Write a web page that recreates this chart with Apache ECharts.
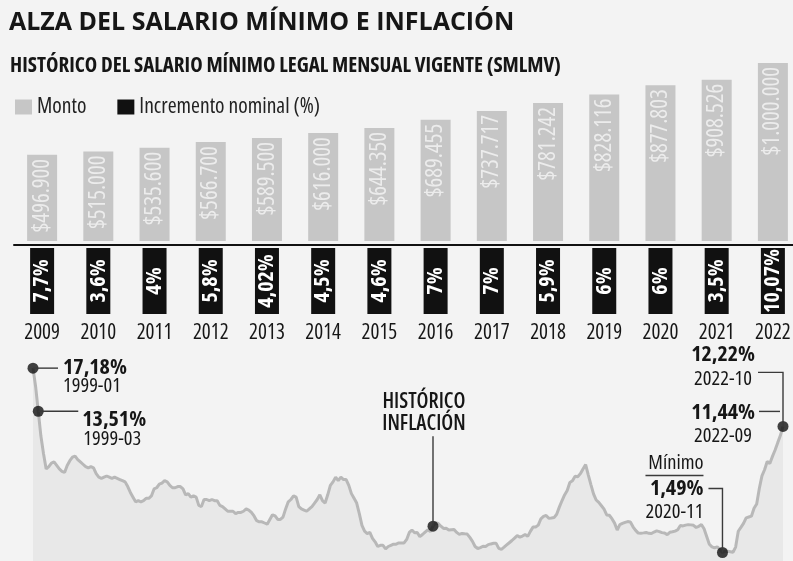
<!DOCTYPE html>
<html><head><meta charset="utf-8">
<script src="https://cdn.jsdelivr.net/npm/echarts@6/dist/echarts.min.js"></script>
<style>html,body{margin:0;padding:0;background:#f3f3f3}#c{width:793px;height:561px}</style>
</head><body><div id="c"></div>
<script>
// ---------- DATA ----------
const anios = ['2009','2010','2011','2012','2013','2014','2015','2016','2017','2018','2019','2020','2021','2022'];
const monto = [496900, 515000, 535600, 566700, 589500, 616000, 644350, 689455, 737717, 781242, 828116, 877803, 908526, 1000000];
const incremento = [7.7, 3.6, 4, 5.8, 4.02, 4.5, 4.6, 7, 7, 5.9, 6, 6, 3.5, 10.07];

// Inflación anual (%), mensual desde 1999-01 hasta 2022-10
const inflacion = [
  17.18, 15.60, 13.51, 11.40, 9.90, 8.60, 8.80, 9.10, 9.20, 8.90, 8.60, 8.40,   // 1999
  8.30, 8.90, 9.30, 9.60, 9.70, 9.40, 9.20, 9.00, 8.80, 8.70, 8.80, 8.70,       // 2000
  8.20, 7.90, 7.80, 7.90, 8.00, 7.90, 7.80, 7.90, 7.80, 7.70, 7.60, 7.50,       // 2001
  7.10, 6.60, 6.20, 5.80, 5.90, 5.80, 5.90, 6.10, 6.10, 6.30, 6.90, 7.00,       // 2002
  7.30, 7.40, 7.60, 7.50, 7.20, 7.00, 7.00, 7.10, 7.10, 6.90, 6.40, 6.50,       // 2003
  6.20, 6.30, 6.20, 5.50, 5.40, 6.00, 6.00, 5.90, 6.00, 5.90, 5.90, 5.50,       // 2004
  5.40, 5.20, 5.00, 5.00, 5.00, 4.80, 4.90, 4.90, 5.00, 5.20, 5.10, 4.90,       // 2005
  4.60, 4.20, 4.10, 4.10, 4.00, 3.90, 4.30, 4.70, 4.60, 4.30, 4.30, 4.50,       // 2006
  5.20, 5.80, 6.00, 6.30, 6.20, 5.40, 5.20, 5.10, 5.00, 5.20, 5.40, 5.70,       // 2007
  6.00, 6.40, 5.90, 5.70, 6.40, 7.20, 7.50, 7.90, 7.60, 7.90, 7.70, 7.70,       // 2008
  7.20, 6.50, 6.10, 5.70, 4.80, 3.80, 3.30, 3.10, 3.20, 2.70, 2.40, 2.00,       // 2009
  2.10, 2.10, 1.80, 2.00, 2.10, 2.20, 2.20, 2.30, 2.30, 2.30, 2.60, 3.20,       // 2010
  3.40, 3.17, 3.19, 2.84, 3.02, 3.23, 3.42, 3.27, 3.73, 4.02, 3.96, 3.73,       // 2011
  3.54, 3.55, 3.40, 3.43, 3.44, 3.20, 3.03, 3.11, 3.08, 3.06, 2.77, 2.44,       // 2012
  2.00, 1.83, 1.91, 2.02, 2.00, 2.16, 2.22, 2.27, 2.27, 1.84, 1.76, 1.94,       // 2013
  2.13, 2.32, 2.51, 2.72, 2.93, 2.79, 2.89, 3.02, 2.86, 3.29, 3.65, 3.66,       // 2014
  3.82, 4.36, 4.56, 4.64, 4.41, 4.42, 4.46, 4.74, 5.35, 5.89, 6.39, 6.77,       // 2015
  7.45, 7.59, 7.98, 7.93, 8.20, 8.60, 8.97, 8.10, 7.27, 6.48, 5.96, 5.75,       // 2016
  5.47, 5.18, 4.69, 4.66, 4.37, 3.99, 3.40, 3.87, 3.97, 4.05, 4.12, 4.09,       // 2017
  3.68, 3.37, 3.14, 3.13, 3.16, 3.20, 3.12, 3.10, 3.23, 3.33, 3.27, 3.18,       // 2018
  3.15, 3.01, 3.21, 3.25, 3.31, 3.43, 3.79, 3.75, 3.82, 3.86, 3.84, 3.80,       // 2019
  3.62, 3.72, 3.86, 3.51, 2.85, 2.19, 1.97, 1.88, 1.97, 1.75, 1.49, 1.61,       // 2020
  1.60, 1.56, 1.51, 1.95, 3.30, 3.63, 3.97, 4.44, 4.51, 4.58, 5.26, 5.62,       // 2021
  6.94, 8.01, 8.53, 9.23, 9.07, 9.67, 10.21, 10.84, 11.44, 12.22                // 2022
];
const inicioAnio = 1999;
const hitos = ['1999-01', '1999-03', '2011-09', '2020-11', '2022-10'];

// ---------- HELPERS ----------
const meses = inflacion.map((_, i) => {
  const y = inicioAnio + Math.floor(i / 12), m = (i % 12) + 1;
  return y + '-' + (m < 10 ? '0' + m : m);
});
const coma = v => String(v).replace('.', ',');
const miles = v => String(v).replace(/\B(?=(\d{3})+(?!\d))/g, '.');
const valorDe = f => inflacion[meses.indexOf(f)];

const CF = '"Open Sans", sans-serif';   // used with fontStyle 'condensed'
const CS = 'condensed';
const INK = '#161616';
const GRIS = '#c6c6c6';

const chart = echarts.init(document.getElementById('c'));
const option = {
  backgroundColor: '#f3f3f3',
  animation: false,
  title: [
    { text: 'ALZA DEL SALARIO MÍNIMO E INFLACIÓN', left: 9, top: 10, padding: 0,
      textStyle: { fontSize: 25, fontWeight: 'bold', fontFamily: CF, color: INK } },
    { text: 'HISTÓRICO DEL SALARIO MÍNIMO LEGAL MENSUAL VIGENTE (SMLMV)', left: 10, top: 56, padding: 0,
      textStyle: { fontSize: 21, fontWeight: 'bold', fontStyle: CS, fontFamily: CF, color: INK } }
  ],
  legend: {
    data: ['Monto', 'Incremento nominal (%)'], left: 15, top: 96, padding: 0,
    icon: 'rect', itemWidth: 17, itemHeight: 15, itemGap: 31, selectedMode: false,
    textStyle: { fontSize: 21.5, fontStyle: CS, fontFamily: CF, color: '#222' }
  },
  grid: [
    { left: 14, right: -8, top: 63, bottom: 320, outerBoundsMode: 'none' },
    { left: 14, right: -8, top: 248, height: 66, outerBoundsMode: 'none' },
    { left: 33, right: 10, top: 358.5, height: 211.5, outerBoundsMode: 'none' }
  ],
  xAxis: [
    { gridIndex: 0, type: 'category', data: anios, offset: 4,
      axisLine: { lineStyle: { color: '#111', width: 2 } },
      axisTick: { inside: true, length: 3, lineStyle: { color: '#777', width: 1 } },
      axisLabel: { show: false } },
    { gridIndex: 1, type: 'category', data: anios,
      axisLine: { show: false }, axisTick: { show: false },
      axisLabel: { interval: 0, margin: 9, fontSize: 21, fontStyle: CS, fontFamily: CF, color: INK } },
    { gridIndex: 2, type: 'category', data: meses, boundaryGap: false, show: false }
  ],
  yAxis: [
    { gridIndex: 0, type: 'value', min: 25000, max: 1000000, show: false },
    { gridIndex: 1, type: 'value', min: 0, max: 1, show: false },
    { gridIndex: 2, type: 'value', min: 0, max: 18, show: false }
  ],
  series: [
    { name: 'Monto', type: 'bar', xAxisIndex: 0, yAxisIndex: 0, data: monto, barWidth: 30,
      itemStyle: { color: GRIS },
      label: { show: true, position: 'insideTop', distance: 4, rotate: 90, align: 'right', verticalAlign: 'middle',
        formatter: p => '$' + miles(p.value), color: '#ececec', fontSize: 23, fontStyle: CS, fontFamily: CF } },
    { name: 'Incremento nominal (%)', type: 'scatter', xAxisIndex: 1, yAxisIndex: 1,
      symbol: 'rect', symbolSize: [24, 66],
      itemStyle: { color: '#111', opacity: 1 },
      data: incremento.map((v, i) => ({ value: [i, 0.5], inc: v })),
      label: { show: true, position: 'inside', rotate: 90, color: '#fff', fontSize: 22, fontWeight: 'bold',
        fontStyle: CS, fontFamily: CF, formatter: p => coma(p.data.inc) + '%' } },
    { name: 'Inflación', type: 'line', xAxisIndex: 2, yAxisIndex: 2, data: inflacion,
      showSymbol: false, symbol: 'none', smooth: false, z: 2,
      lineStyle: { color: '#b8b8b8', width: 3 },
      areaStyle: { color: '#e8e8e8', opacity: 1 } },
    { name: 'Hitos', type: 'scatter', xAxisIndex: 2, yAxisIndex: 2, z: 5,
      symbolSize: 11, itemStyle: { color: '#111' },
      data: hitos.map(f => [meses.indexOf(f), valorDe(f)]) }
  ]
};
chart.setOption(option);

// ---------- ANNOTATIONS (positioned from the chart's own scales) ----------
const P = f => chart.convertToPixel({ xAxisIndex: 2, yAxisIndex: 2 }, [meses.indexOf(f), valorDe(f)]);
const txt = (x, y, text, o) => ({ type: 'text', x, y, z: 50, silent: true,
  style: Object.assign({ text, fill: INK, fontSize: 20.5, fontStyle: CS, fontFamily: CF, fontWeight: 'normal',
    align: 'left', verticalAlign: 'middle' }, o || {}) });
const ln = (pts) => ({ type: 'polyline', z: 40, silent: true, shape: { points: pts },
  style: { stroke: '#3a3a3a', lineWidth: 1.4, fill: 'none' } });
const B = { fontWeight: 'bold', fontSize: 22 };
const R = o => Object.assign({ align: 'right' }, o || {});

const a = P('1999-01'), b = P('1999-03'), c = P('2011-09'), d = P('2020-11'), e = P('2022-10');
const g = [];
g.push(ln([[a[0], a[1]], [a[0] + 25, a[1]]]));
g.push(txt(a[0] + 30, a[1], coma(valorDe('1999-01')) + '%', B));
g.push(txt(a[0] + 30, a[1] + 18, '1999-01'));
g.push(ln([[b[0], b[1]], [b[0] + 40, b[1]]]));
g.push(txt(b[0] + 44, b[1] + 8, coma(valorDe('1999-03')) + '%', B));
g.push(txt(b[0] + 45, b[1] + 28, '1999-03'));
g.push(ln([[c[0], c[1] - 90], [c[0], c[1]]]));
g.push(txt(c[0] - 9, c[1] - 124, 'HISTÓRICO', { align: 'center', fontSize: 21, fontWeight: 600 }));
g.push(txt(c[0] - 9, c[1] - 102, 'INFLACIÓN', { align: 'center', fontSize: 21, fontWeight: 600 }));
g.push(ln([[d[0] - 14, d[1] - 64], [d[0], d[1] - 64], [d[0], d[1]]]));
g.push(txt(d[0] - 19, d[1] - 89, 'Mínimo', R()));
g.push(ln([[d[0] - 77, d[1] - 77], [d[0] - 19, d[1] - 77]]));
g.push(txt(d[0] - 19, d[1] - 64, coma(valorDe('2020-11')) + '%', R(B)));
g.push(txt(d[0] - 19, d[1] - 40, '2020-11', R()));
g.push(ln([[e[0] - 25, e[1] - 54], [e[0], e[1] - 54], [e[0], e[1]]]));
g.push(txt(e[0] - 28, e[1] - 72, coma(valorDe('2022-10')) + '%', R(B)));
g.push(txt(e[0] - 31, e[1] - 47, '2022-10', R()));
g.push(ln([[e[0] - 24, e[1] - 15], [e[0] - 3, e[1] - 15]]));
g.push(txt(e[0] - 28, e[1] - 14, coma(valorDe('2022-09')) + '%', R(B)));
g.push(txt(e[0] - 31, e[1] + 10, '2022-09', R()));
chart.setOption({ graphic: g });
</script>
</body></html>
